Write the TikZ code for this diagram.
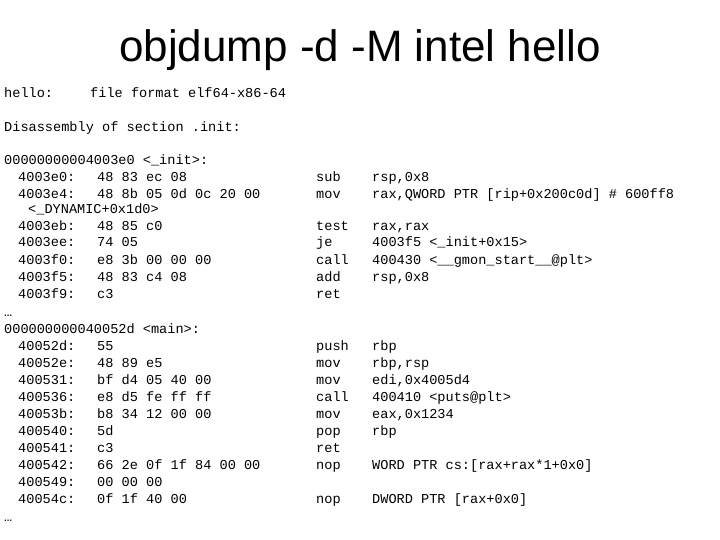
\documentclass[tikz,border=0pt]{standalone}
\usepackage{fontspec}
\setmainfont{Liberation Sans}
\newfontfamily\codefont{Liberation Mono}
\tikzset{code/.style={anchor=base west,inner sep=0pt,font=\codefont\fontsize{13.6}{16}\selectfont}}
\begin{document}
\begin{tikzpicture}[x=1pt,y=-1pt]
        \useasboundingbox (0,0) rectangle (720,540);
        \node (title) at (360,50){\fontsize{44}{50}\selectfont objdump -d -M intel hello};
        \node[code] (hdr) at (4,98){hello:};
        \node[code] (fmt) at (90,98){file format elf64-x86-64};
        \node[code] (dis) at (4,132){Disassembly of section .init:};
        \node[code] (init) at (4,165){00000000004003e0 <\_init>:};
        \foreach \y/\a/\b/\c/\d [count=\i] in {
            182/4003e0:/48 83 ec 08/sub/{rsp,0x8},
            199/4003e4:/48 8b 05 0d 0c 20 00/mov/{rax,QWORD PTR [rip+0x200c0d] \# 600ff8},
            230/4003eb:/48 85 c0/test/{rax,rax},
            247/4003ee:/74 05/je/{4003f5 <\_init+0x15>},
            264/4003f0:/e8 3b 00 00 00/call/{400430 <\_\_gmon\_start\_\_@plt>},
            281/4003f5:/48 83 c4 08/add/{rsp,0x8},
            298/4003f9:/c3/ret/{}}{
            \node[code] (ia\i) at (18,\y){\a};
            \node[code] (ib\i) at (97,\y){\b};
            \node[code] (ic\i) at (316,\y){\c};
            \node[code] (id\i) at (372,\y){\d};
        }
        \node[code] (dyn) at (28,214){<\_DYNAMIC+0x1d0>};
        \node[code] (dots1) at (4,316){…};
        \node[code] (main) at (4,333){000000000040052d <main>:};
        \foreach \y/\a/\b/\c/\d [count=\i] in {
            350/40052d:/55/push/rbp,
            367/40052e:/48 89 e5/mov/{rbp,rsp},
            384/400531:/bf d4 05 40 00/mov/{edi,0x4005d4},
            401/400536:/e8 d5 fe ff ff/call/{400410 <puts@plt>},
            418/40053b:/b8 34 12 00 00/mov/{eax,0x1234},
            435/400540:/5d/pop/rbp,
            452/400541:/c3/ret/{},
            469/400542:/66 2e 0f 1f 84 00 00/nop/{WORD PTR cs:[rax+rax*1+0x0]},
            486/400549:/00 00 00/{}/{},
            503/40054c:/0f 1f 40 00/nop/{DWORD PTR [rax+0x0]}}{
            \node[code] (ma\i) at (18,\y){\a};
            \node[code] (mb\i) at (97,\y){\b};
            \node[code] (mc\i) at (316,\y){\c};
            \node[code] (md\i) at (372,\y){\d};
        }
        \node[code] (dots2) at (4,521){…};
    \end{tikzpicture}
\end{document}
